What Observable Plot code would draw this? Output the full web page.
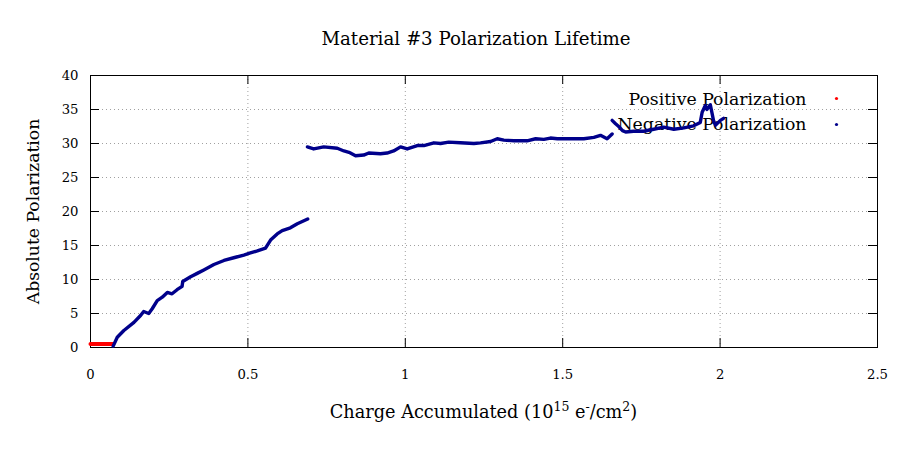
<!DOCTYPE html>
<html><head><meta charset="utf-8">
<script src="https://cdn.jsdelivr.net/npm/d3@7"></script>
<script src="https://cdn.jsdelivr.net/npm/@observablehq/plot@0.6"></script>
<style>body{margin:0;background:#fff} svg{display:block}</style>
</head><body><div id="chart"></div>
<script>
const titleText = "Material #3 Polarization Lifetime";
const yLabel = "Absolute Polarization";
const seriesNames = ["Positive Polarization", "Negative Polarization"];
const xTicks = [0, 0.5, 1, 1.5, 2, 2.5];
const xTickLabels = ["0", "0.5", "1", "1.5", "2", "2.5"];
const yTicks = [0, 5, 10, 15, 20, 25, 30, 35, 40];

const posX = [0, 0.02, 0.04, 0.06, 0.072];
const posY = [0.5, 0.5, 0.5, 0.5, 0.5];

const negX1 = [0.072,0.085,0.106,0.138,0.159,0.169,0.185,0.196,0.212,0.228,0.244,0.259,0.275,0.291,
  0.293,0.318,0.339,0.360,0.392,0.424,0.455,0.487,0.508,0.530,0.556,0.572,0.593,0.609,0.635,0.657,0.690];
const negY1 = [0.2,1.5,2.5,3.7,4.7,5.3,5.0,5.7,6.9,7.4,8.1,7.9,8.5,9.0,
  9.7,10.4,10.9,11.4,12.2,12.8,13.2,13.6,13.9,14.2,14.6,15.8,16.7,17.2,17.6,18.2,18.9];

const negX2 = [0.689,0.709,0.741,0.784,0.805,0.821,0.842,0.868,0.884,0.921,0.942,0.963,0.985,1.006,1.038,1.059,
  1.091,1.112,1.138,1.175,1.218,1.239,1.271,1.292,1.313,1.345,1.387,1.414,1.440,1.461,1.483,1.525,1.567,1.599,1.620,1.641,1.657];
const negY2 = [29.5,29.2,29.5,29.3,28.9,28.7,28.2,28.3,28.6,28.5,28.6,28.9,29.5,29.2,29.7,29.7,
  30.1,30.0,30.2,30.1,30.0,30.1,30.3,30.7,30.5,30.4,30.4,30.7,30.6,30.8,30.7,30.7,30.7,30.9,31.2,30.7,31.4];

const negX3 = [1.657,1.668,1.678,1.690,1.700,1.725,1.757,1.789,1.821,1.853,1.885,1.916,1.937,1.943,1.953,1.958,1.969,1.979,1.985,2.001,2.011];
const negY3 = [33.4,32.9,32.5,31.9,31.7,31.8,31.8,32.1,32.4,32.1,32.3,32.6,33.1,34.6,35.6,35.0,35.7,33.4,32.7,33.4,33.7];

const rows = (xs, ys, seg) => xs.map((x, i) => ({x, y: ys[i], seg}));
const pos = rows(posX, posY, 0);
const neg = [...rows(negX1, negY1, 1), ...rows(negX2, negY2, 2), ...rows(negX3, negY3, 3)];

const font = "'DejaVu Serif', 'Liberation Serif', serif";
const W = 900, H = 450, mL = 90, mR = 23, mT = 75, mB = 103;
const fw = W - mL - mR, fh = H - mT - mB;
const blue = "#00008b";

const chart = Plot.plot({
  width: W, height: H, marginLeft: mL, marginRight: mR, marginTop: mT, marginBottom: mB,
  style: {fontFamily: font, fontSize: "13.2px", background: "#fff", color: "#000"},
  x: {domain: [0, 2.5]},
  y: {domain: [0, 40]},
  marks: [
    Plot.gridX(xTicks.slice(1, -1), {stroke: "#a0a0a0", strokeOpacity: 1, strokeDasharray: "1,3"}),
    Plot.gridY(yTicks.slice(1, -1), {stroke: "#a0a0a0", strokeOpacity: 1, strokeDasharray: "1,3"}),
    Plot.ruleX(xTicks, {insetTop: fh - 9, stroke: "#000"}),
    Plot.ruleX(xTicks, {insetBottom: fh - 9, stroke: "#000"}),
    Plot.ruleY(yTicks, {insetRight: fw - 9, stroke: "#000"}),
    Plot.ruleY(yTicks, {insetLeft: fw - 9, stroke: "#000"}),
    Plot.axisX(xTicks, {tickSize: 0, tickPadding: 22, label: null, fontSize: 13.2, tickFormat: (d, i) => xTickLabels[i]}),
    Plot.axisY(yTicks, {tickSize: 0, tickPadding: 12, label: null, fontSize: 13.2}),
    Plot.frame({stroke: "#000"}),
    Plot.text([seriesNames[0]], {frameAnchor: "top-right", dx: -71, dy: 24, textAnchor: "end", lineAnchor: "middle", fontSize: 17.3}),
    Plot.text([seriesNames[1]], {frameAnchor: "top-right", dx: -71, dy: 49, textAnchor: "end", lineAnchor: "middle", fontSize: 17.3}),
    Plot.dot([0], {frameAnchor: "top-right", dx: -41, dy: 23, r: 1.6, fill: "#ff0000", stroke: null}),
    Plot.dot([0], {frameAnchor: "top-right", dx: -41, dy: 49, r: 1.6, fill: blue, stroke: null}),
    Plot.line(pos, {x: "x", y: "y", stroke: "#ff0000", strokeWidth: 4}),
    Plot.line(neg, {x: "x", y: "y", z: "seg", stroke: blue, strokeWidth: 3.4, strokeLinecap: "round", strokeLinejoin: "round"}),
    Plot.text([yLabel], {frameAnchor: "left", dx: -57, rotate: -90, textAnchor: "middle", lineAnchor: "middle", fontSize: 17.2}),
    Plot.text([titleText], {frameAnchor: "top", dx: -8, dy: -36, textAnchor: "middle", lineAnchor: "middle", fontSize: 18.2})
  ]
});

const svg = d3.select(chart);
const lab = svg.append("text")
  .attr("x", mL + fw / 2).attr("y", 418)
  .attr("text-anchor", "middle")
  .attr("font-family", font).attr("font-size", 17.7).attr("fill", "#000");
lab.append("tspan").text("Charge Accumulated (10");
lab.append("tspan").attr("dy", -7).attr("font-size", 12.5).text("15");
lab.append("tspan").attr("dy", 7).text(" e");
lab.append("tspan").attr("dy", -7).attr("font-size", 12.5).text("-");
lab.append("tspan").attr("dy", 7).text("/cm");
lab.append("tspan").attr("dy", -7).attr("font-size", 12.5).text("2");
lab.append("tspan").attr("dy", 7).text(")");

document.getElementById("chart").appendChild(chart);
</script>
</body></html>
